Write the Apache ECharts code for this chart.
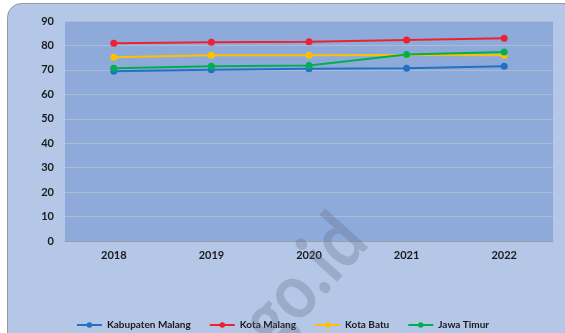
<!DOCTYPE html>
<html>
<head>
<meta charset="utf-8">
<style>
  html, body { margin: 0; padding: 0; background: #ffffff; }
  #chart { width: 565px; height: 333px; }
</style>
<script src="https://cdn.jsdelivr.net/npm/echarts@6/dist/echarts.min.js"></script>
</head>
<body>
<div id="chart"></div>
<script>
// Indeks Pembangunan Manusia, 2018–2022
const years = ['2018', '2019', '2020', '2021', '2022'];
const kabupatenMalang = [69.4, 70.1, 70.5, 70.65, 71.5];
const kotaMalang = [80.9, 81.35, 81.5, 82.2, 82.9];
const kotaBatu = [75.2, 76.0, 76.0, 76.05, 76.0];
const jawaTimur = [70.7, 71.5, 71.75, 76.3, 77.3];
const yTicks = { min: 0, max: 90, interval: 10 };

const font = 'Lato, "Open Sans", sans-serif';
const textColor = '#1a1a1a';

function lineSeries(name, data, color) {
  return {
    name: name,
    type: 'line',
    data: data,
    symbol: 'circle',
    symbolSize: 7,
    lineStyle: { color: color, width: 2 },
    itemStyle: { color: color },
    emphasis: { disabled: true }
  };
}

const chart = echarts.init(document.getElementById('chart'), null, { renderer: 'canvas' });
chart.setOption({
  animation: false,
  backgroundColor: '#ffffff',
  graphic: [
    {
      type: 'rect',
      z: -10,
      shape: { x: 7.5, y: 3.5, width: 620, height: 400, r: 14 },
      style: { fill: '#b4c7e7', stroke: '#9a9a9a', lineWidth: 1 },
      silent: true
    },
    {
      type: 'text',
      z: 100,
      x: 304,
      y: 281,
      rotation: 0.84,
      scaleX: 0.86,
      style: {
        text: 'go.id',
        font: 'bold 78px ' + font,
        fill: 'rgba(95,105,125,0.30)',
        align: 'center',
        verticalAlign: 'middle'
      },
      silent: true
    }
  ],
  grid: {
    left: 65, right: 12, top: 21, bottom: 92,
    show: true,
    backgroundColor: '#8eaadb',
    borderWidth: 0
  },
  legend: {
    top: 315,
    left: 'center',
    itemWidth: 25,
    itemHeight: 7,
    itemGap: 18,
    textStyle: { fontFamily: font, fontWeight: 'bold', fontSize: 10, color: textColor }
  },
  xAxis: {
    type: 'category',
    data: years,
    boundaryGap: true,
    axisLine: { lineStyle: { color: '#9a9fa8', width: 1 } },
    axisTick: { show: false },
    axisLabel: { fontFamily: font, fontWeight: 'bold', fontSize: 11, color: textColor, margin: 9 }
  },
  yAxis: {
    type: 'value',
    min: yTicks.min,
    max: yTicks.max,
    interval: yTicks.interval,
    axisLine: { show: false },
    axisTick: { show: false },
    splitLine: { lineStyle: { color: '#aebbd2', width: 1 } },
    axisLabel: { fontFamily: font, fontWeight: 'bold', fontSize: 11, color: textColor, margin: 11 }
  },
  series: [
    lineSeries('Kabupaten Malang', kabupatenMalang, '#2372c2'),
    lineSeries('Kota Malang', kotaMalang, '#ec2230'),
    lineSeries('Kota Batu', kotaBatu, '#ffc000'),
    lineSeries('Jawa Timur', jawaTimur, '#00b050')
  ]
});
</script>
</body>
</html>
